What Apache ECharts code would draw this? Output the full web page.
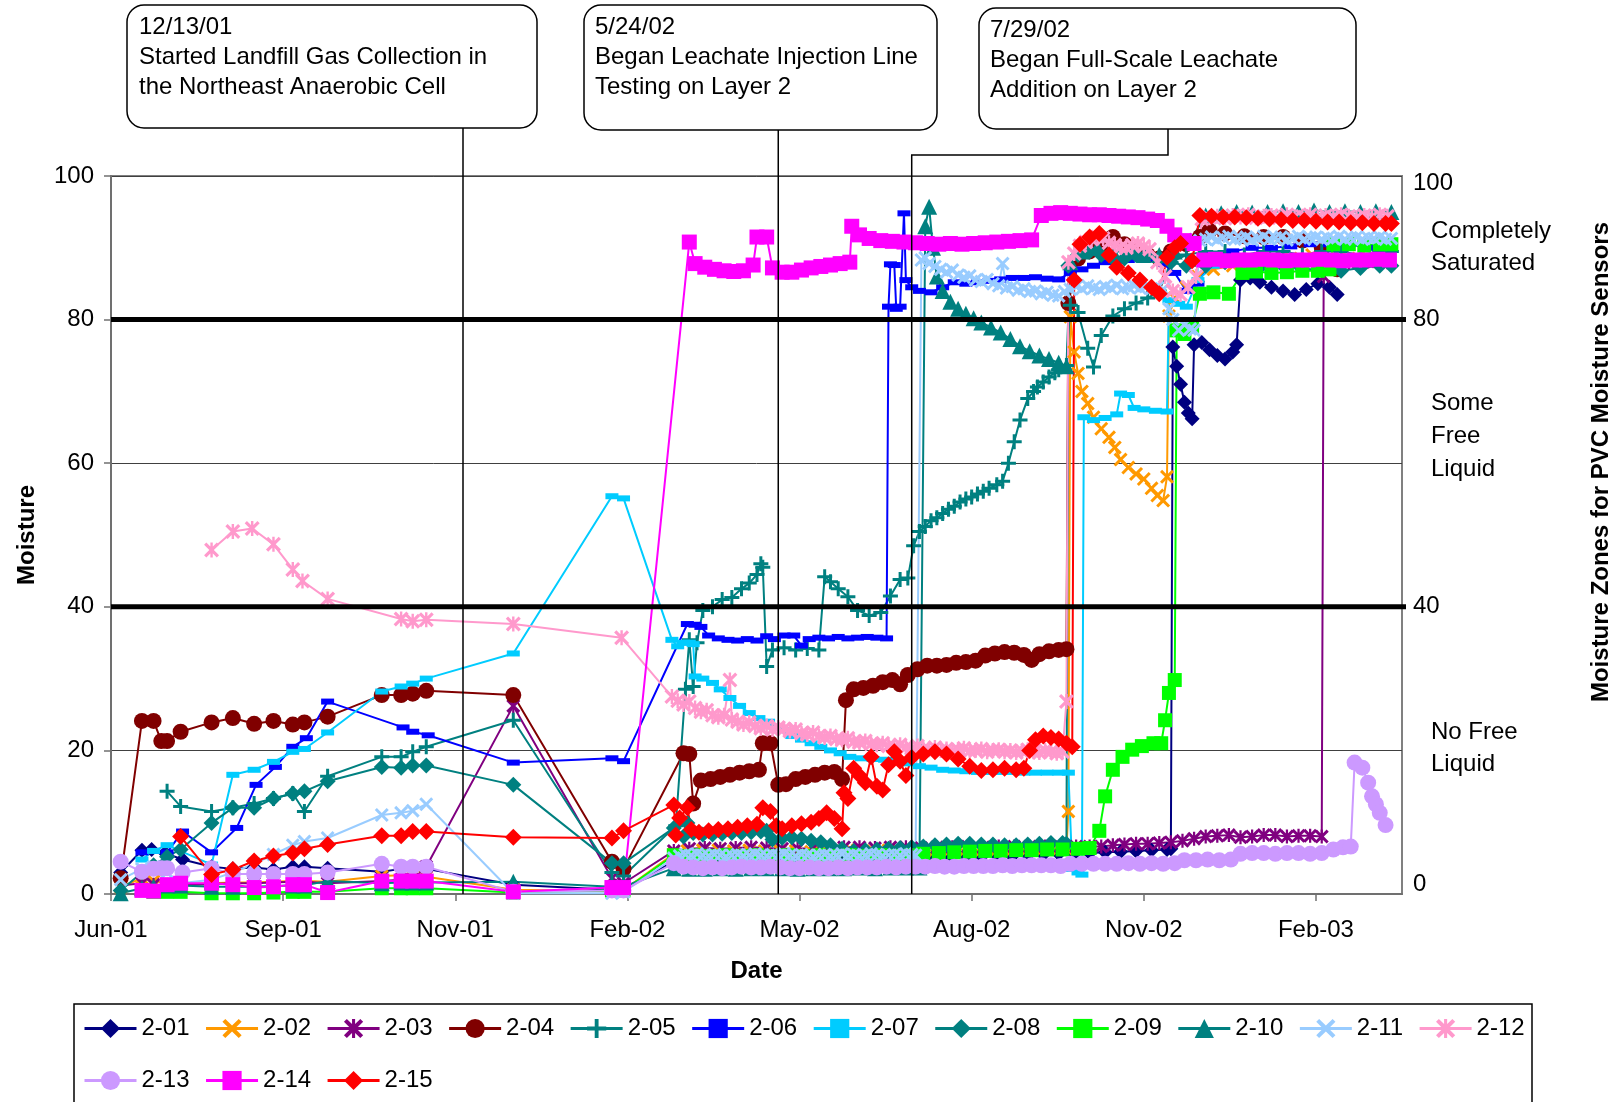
<!DOCTYPE html>
<html><head><meta charset="utf-8">
<script src="https://cdn.jsdelivr.net/npm/echarts@6/dist/echarts.min.js"></script>
<style>html,body{margin:0;padding:0;background:#fff}#chart{width:1621px;height:1102px}</style>
</head><body><div id="chart"></div>
<script>
// ---------- DATA ----------
// x values are days elapsed since the axis origin (4 Jun 2001); y values are moisture readings.
const AXIS_ORIGIN = Date.UTC(2001, 5, 4);
const TICK_DAYS = 89;
const X_MAX_DAYS = 667.5;
const ZONE_LIMITS = [40, 80];
const RIGHT_LABELS = [100, 80, 40, 0];
const ZONE_TEXTS = ['Completely\nSaturated', 'Some\nFree\nLiquid', 'No Free\nLiquid'];
const MONTHS = ['Jan','Feb','Mar','Apr','May','Jun','Jul','Aug','Sep','Oct','Nov','Dec'];
const SENSORS = ['2-01','2-02','2-03','2-04','2-05','2-06','2-07','2-08','2-09','2-10','2-11','2-12','2-13','2-14','2-15'];
const EVENT_DAYS = [182, 345, 414];
const EVENT_TEXTS = [
  '12/13/01\nStarted Landfill Gas Collection in\nthe Northeast Anaerobic Cell',
  '5/24/02\nBegan Leachate Injection Line\nTesting on Layer 2',
  '7/29/02\nBegan Full-Scale Leachate\nAddition on Layer 2'
];

const s2_01 = [[5,3.0],[16,6.1],[21,6.2],[28,5.7],[37,4.8],[52,3.8],[63,3.5],[74,3.7],[84,3.4],[94,3.8],[100,3.8],[112,3.6],[140,3.1],[150,3.5],[156,3.5],[163,3.5],[208,1.3],[259,0.6],[265,0.8],
[291,4.5],[298,5.2],[306,5.3],[314,5.3],[322,5.3],[330,5.4],[338,5.5],[346,5.3],[354,5.1],[362,5.0],[370,4.9],[378,4.8],[386,5.0],[394,5.1],[402,5.0],[410,4.9],[418,5.0],[426,5.1],[434,5.2],[442,5.3],[450,5.2],[458,5.4],[466,5.3],[474,5.4],[482,5.5],[490,5.6],[498,5.6],[506,5.7],[514,5.8],[522,5.9],[530,6.0],[538,6.1],[546,6.2],[548,6.3],
[549,76.2],[551,73.5],[553,71.0],[555,68.5],[557,67.0],[559,66.2],[560,76.5],[564,76.8],[568,75.8],[572,75.0],[576,74.5],[580,75.5],[582,76.5],[584,85.5],[589,85.8],[594,85.2],[600,84.5],[606,84.0],[612,83.5],[618,84.2],[624,85.0],[630,84.5],[634,83.5]];

const s2_02 = [[5,1.0],[16,2.2],[22,1.8],[29,1.5],[36,1.4],[52,1.5],[63,1.6],[74,1.6],[84,1.7],[94,1.8],[100,1.8],[112,1.7],[140,2.5],[150,2.6],[156,2.5],[163,2.4],[208,0.6],[259,0.4],[265,0.5],
[291,5.6],[298,6.0],[306,6.1],[314,6.1],[322,6.0],[330,6.1],[338,6.0],[346,6.0],[354,6.0],[362,5.9],[370,6.0],[378,6.0],[386,6.1],[394,6.0],[402,6.1],[410,6.0],[418,6.1],[426,6.1],[434,6.2],[442,6.2],[450,6.1],[458,6.2],[466,6.2],[474,6.3],[482,6.3],[490,6.3],[494,6.3],
[495,11.5],[496,80.4],[498,75.5],[500,72.5],[502,70.0],[505,68.3],[508,66.4],[512,64.8],[516,63.6],[519,62.2],[522,60.5],[526,59.4],[530,58.5],[534,57.8],[538,56.5],[541,55.5],[544,54.8],[546,58.1],[547,80.5],[550,83.0],[556,84.5],[562,86.0],[570,87.0],[580,87.5],[590,88.0],[600,88.0],[610,88.5],[621,89.0],[630,88.5],[640,88.5],[650,88.6],[660,88.5]];

const s2_03 = [[5,1.2],[16,1.5],[22,1.3],[29,1.2],[36,1.2],[52,1.4],[63,1.5],[74,1.5],[84,1.6],[94,1.7],[100,1.7],[112,1.5],[140,1.8],[150,2.0],[156,2.0],[163,3.8],[208,26.2],[259,2.2],[265,1.5],
[291,6.0],[299,6.3],[307,6.4],[315,6.3],[323,6.4],[331,6.5],[339,6.4],[347,6.3],[355,6.3],[363,6.4],[371,6.4],[379,6.5],[387,6.5],[395,6.4],[403,6.5],[411,6.5],[419,6.4],[427,6.5],[435,6.5],[443,6.6],[451,6.5],[459,6.6],[467,6.6],[475,6.6],[483,6.6],[491,6.6],[499,6.6],[506,6.6],[512,6.6],[518,6.8],[524,6.9],[530,7.0],[536,7.0],[542,7.1],[548,7.2],[554,7.4],[560,7.7],[566,8.0],[572,8.1],[578,8.2],[584,7.9],[590,8.0],[596,8.2],[602,8.2],[608,8.0],[614,8.1],[620,8.1],[626,8.0],
[627,86.0],[632,87.5],[640,88.0],[650,88.1],[660,88.0]];

const s2_04 = [[5,2.2],[16,24.1],[22,24.1],[26,21.3],[29,21.3],[36,22.6],[52,23.9],[63,24.5],[74,23.7],[84,24.1],[94,23.6],[100,23.9],[112,24.7],[140,27.7],[150,27.7],[156,27.9],[163,28.3],[208,27.7],[259,4.5],[265,3.5],
[296,19.6],[299,19.5],[301,12.6],[305,15.8],[310,16.0],[315,16.3],[320,16.6],[325,16.9],[330,17.1],[335,17.3],[337,21.0],[341,21.0],[345,15.2],[349,15.3],[354,16.0],[359,16.3],[364,16.6],[369,16.9],[374,17.0],[378,16.0],[380,27.0],[384,28.5],[389,28.7],[394,29.0],[399,29.5],[404,29.8],[408,29.2],[412,30.5],[417,31.3],[422,31.8],[427,31.8],[432,31.9],[437,32.2],[442,32.3],[447,32.5],[452,33.2],[457,33.5],[462,33.7],[467,33.6],[472,33.3],[476,32.6],[480,33.4],[485,33.8],[490,34.0],[494,34.1],
[495,82.3],[500,88.5],[506,89.5],[512,90.5],[518,91.5],[524,90.5],[530,89.5],[536,89.0],[542,88.5],[548,89.5],[556,90.5],[563,91.5],[568,92.4],[576,92.0],[586,91.6],[596,91.5],[606,91.5],[616,91.0],[626,90.0],[634,87.0]];

const s2_05 = [[29,14.3],[36,12.2],[52,11.5],[63,12.0],[74,12.6],[84,13.3],[94,14.0],[100,11.5],[112,16.4],[140,19.1],[150,19.1],[156,19.8],[163,20.5],[208,24.2],[259,3.0],[265,2.5],
[292,9.5],[297,28.5],[299,35.4],[301,28.9],[303,35.0],[306,39.5],[311,40.0],[316,41.0],[321,41.3],[326,42.5],[330,43.3],[334,44.5],[336,46.0],[337,45.5],[339,31.7],[342,34.0],[348,34.3],[354,34.0],[360,34.2],[366,34.0],[369,44.2],[372,43.5],[376,42.5],[381,41.4],[386,39.5],[392,38.8],[398,39.2],[403,41.5],[408,43.8],[412,44.0],[415,48.5],[418,50.5],[421,51.2],[424,52.0],[427,52.4],[430,53.0],[433,53.6],[436,54.0],[439,54.6],[442,55.0],[445,55.3],[448,55.7],[451,56.1],[454,56.5],[458,57.0],[461,57.5],[464,60.0],[467,63.0],[470,66.0],[474,69.0],[477,70.0],[479,70.6],[482,71.3],[485,72.0],[488,72.6],[490,73.0],[494,73.6],
[496,82.0],[500,81.0],[505,76.0],[508,73.4],[512,77.8],[518,80.5],[524,81.5],[530,82.3],[536,83.0],[542,84.0],[548,88.0],[556,89.0],[566,89.5],[576,89.5],[586,89.0],[596,89.5],[606,89.5],[616,89.0],[626,89.5],[636,89.5],[646,89.0],[656,89.5],[662,89.5]];

const s2_06 = [[16,5.8],[22,6.0],[29,5.8],[37,8.7],[52,5.8],[65,9.2],[75,15.2],[85,17.7],[94,20.5],[101,21.7],[112,26.8],[151,23.2],[156,22.6],[164,22.1],[208,18.3],[259,18.9],[265,18.5],
[298,37.6],[302,37.5],[305,37.2],[309,36.0],[314,35.6],[319,35.4],[324,35.3],[329,35.5],[334,35.3],[339,35.9],[343,35.5],[348,36.0],[353,36.0],[357,34.6],[361,35.5],[366,35.7],[371,35.6],[376,35.8],[381,35.6],[386,35.7],[391,35.8],[396,35.7],[401,35.6],
[402,81.8],[403,87.7],[405,87.6],[406,81.5],[408,81.8],[410,94.8],[411,85.5],[414,84.5],[418,84.0],[424,83.8],[430,84.5],[436,85.2],[442,85.0],[448,85.2],[454,85.4],[460,85.6],[466,85.8],[472,85.8],[478,85.9],[484,85.7],[490,85.6],[496,86.5],[502,87.0],[508,87.5],[514,88.0],[520,88.2],[526,88.3],[532,88.6],[538,88.5],[544,87.8],[550,86.5],[556,84.0],[562,85.0],[570,89.0],[580,89.5],[590,90.0],[600,90.0],[610,90.2],[620,90.5],[630,90.5],[640,90.5],[650,90.0],[660,90.5]];

const s2_07 = [[16,4.8],[22,6.0],[29,6.8],[52,4.1],[63,16.6],[74,17.3],[84,18.4],[94,19.8],[100,20.2],[112,22.5],[140,28.2],[150,28.9],[156,29.3],[163,30.0],[208,33.5],[259,55.4],[265,55.1],
[290,35.4],[293,34.5],[296,35.0],[299,35.0],[301,34.8],[302,30.3],[306,30.0],[311,29.4],[315,28.5],[320,27.3],[325,26.2],[330,25.2],[335,24.5],[340,24.0],[344,23.3],[348,22.8],[352,22.0],[357,21.5],[362,21.0],[367,20.5],[372,20.0],[377,19.6],[382,19.1],[388,18.9],[394,18.8],[400,18.7],[406,18.6],[412,18.2],[418,17.8],[424,17.6],[430,17.3],[436,17.2],[442,17.1],[448,17.0],[454,17.0],[460,17.0],[466,17.0],[472,16.9],[478,16.9],[484,16.9],[490,16.9],[495,16.9],
[497,3.5],[500,3.0],[502,2.7],[503,66.4],[508,66.0],[514,66.3],[520,66.8],[522,69.7],[526,69.5],[529,67.7],[534,67.5],[540,67.3],[546,67.2],[547,82.7],[552,82.2],[556,81.8],[562,85.5],[570,87.5],[580,88.0],[590,88.0],[600,87.8],[610,88.0],[620,88.1],[630,88.2],[640,88.0],[650,88.0],[660,88.1]];

const s2_08 = [[5,0.5],[16,3.0],[22,4.0],[29,5.2],[36,6.2],[52,9.9],[63,12.0],[74,12.0],[84,13.3],[94,14.0],[100,14.3],[112,15.7],[140,17.7],[150,17.6],[156,17.9],[163,17.9],[208,15.2],[259,4.3],[265,4.3],
[291,9.2],[296,8.0],[298,9.9],[301,8.5],[306,8.3],[311,8.3],[316,8.4],[321,8.5],[326,8.5],[331,8.6],[336,8.7],[339,8.8],[342,7.6],[347,7.8],[352,7.9],[357,7.7],[362,7.4],[367,7.2],[372,6.8],[378,6.3],[384,6.0],[390,6.1],[396,6.2],[402,6.3],[408,6.4],[414,6.5],[420,6.6],[426,6.8],[432,6.9],[438,7.0],[444,7.0],[450,6.9],[456,6.9],[462,6.8],[468,6.8],[474,6.9],[480,7.0],[486,7.1],[492,7.1],[494,7.0],
[495,87.5],[500,89.0],[506,89.5],[512,89.0],[518,88.5],[524,88.5],[530,89.0],[536,89.0],[542,88.5],[548,88.0],[556,87.5],[566,87.5],[576,88.0],[586,88.0],[596,87.8],[606,87.5],[616,87.0],[626,87.0],[636,86.8],[646,87.2],[656,87.5],[662,87.5]];

const s2_09 = [[22,0.3],[29,0.3],[36,0.3],[52,0.1],[63,0.1],[74,0.1],[84,0.2],[94,0.3],[100,0.3],[112,0.3],[140,0.8],[150,0.8],[156,0.8],[163,0.8],[208,0.2],[259,0.5],[265,0.5],
[291,5.4],[297,5.3],[303,5.4],[310,5.3],[318,5.4],[326,5.3],[334,5.4],[342,5.3],[350,5.4],[358,5.3],[366,5.4],[374,5.3],[382,5.4],[390,5.3],[398,5.4],[406,5.3],[414,5.4],[420,5.6],[428,5.7],[436,5.8],[444,5.9],[452,6.0],[460,6.0],[468,6.1],[476,6.1],[484,6.2],[492,6.2],[500,6.3],[506,6.4],
[511,8.8],[514,13.6],[518,17.3],[523,19.1],[528,20.1],[533,20.6],[539,21.0],[543,21.0],[545,24.2],[547,28.0],[550,29.8],[551,78.5],[555,78.0],[559,79.0],[563,83.6],[570,83.8],[578,83.6],[585,86.5],[592,86.7],[600,86.5],[608,86.6],[616,86.8],[624,86.8],[630,87.0],[632,90.5],[640,90.5],[648,90.3],[656,90.5],[662,90.5]];

const s2_10 = [[5,0.1],[16,0.8],[22,1.0],[29,1.2],[36,1.2],[52,1.0],[63,1.0],[74,1.0],[84,1.1],[94,1.2],[100,1.2],[112,1.8],[140,1.5],[150,1.6],[156,1.6],[163,1.6],[208,1.7],[259,1.0],[265,1.0],
[291,3.6],[299,3.5],[307,3.5],[315,3.6],[323,3.5],[331,3.6],[339,3.6],[347,3.6],[355,3.5],[363,3.6],[371,3.6],[379,3.6],[387,3.7],[395,3.6],[403,3.7],[411,3.7],[418,3.7],
[421,93.0],[423,95.7],[425,90.0],[427,86.0],[430,84.0],[434,82.5],[438,81.5],[442,80.8],[446,80.2],[450,79.6],[455,78.9],[460,78.2],[465,77.3],[470,76.3],[475,75.6],[480,75.0],[485,74.5],[490,74.0],[494,73.5],
[496,88.0],[502,89.5],[510,90.0],[518,89.5],[526,89.5],[534,89.0],[542,89.0],[550,89.5],[558,91.0],[566,94.5],[574,94.8],[582,95.0],[590,94.9],[598,95.0],[606,95.1],[614,95.0],[622,95.2],[630,95.0],[638,95.1],[646,95.0],[654,95.1],[662,95.0]];

const s2_11 = [[5,2.0],[16,3.5],[22,3.8],[29,3.0],[36,1.5],[52,2.0],[63,3.0],[74,4.2],[84,5.5],[94,6.8],[100,7.3],[112,7.8],[140,11.0],[150,11.3],[156,11.6],[163,12.5],[208,0.1],[259,0.1],[265,0.3],
[291,5.0],[294,5.3],[297,5.5],[300,5.4],[303,5.6],[306,5.4],[309,5.3],[312,5.5],[315,5.4],[318,5.2],[321,5.4],[324,5.5],[327,5.3],[330,5.4],[333,5.6],[336,5.4],[339,5.3],[342,5.5],[345,5.4],[348,5.6],[351,5.4],[354,5.3],[357,5.5],[360,5.4],[363,5.2],[366,5.4],[369,5.5],[372,5.3],[375,5.4],[378,5.6],[381,5.4],[384,5.5],[387,5.3],[390,5.4],[393,5.6],[396,5.5],[399,5.3],[402,5.4],[405,5.5],[408,5.4],[411,5.6],[414,5.5],[416,5.4],
[419,88.3],[421,88.6],[423,87.8],[426,87.4],[429,87.0],[432,86.6],[435,86.9],[438,86.2],[441,85.9],[444,86.1],[447,85.5],[450,85.3],[453,85.6],[456,85.0],[459,84.7],[461,87.8],[463,84.4],[466,84.6],[469,84.1],[472,84.3],[475,83.9],[478,84.0],[481,83.6],[484,83.8],[487,83.4],[490,83.3],[493,83.9],[496,84.2],[499,84.6],[502,84.3],[505,84.7],[508,84.4],[511,84.2],[514,84.6],[517,84.4],[520,84.8],[523,84.3],[526,84.5],[529,84.7],[532,84.4],[535,84.6],[538,84.3],[541,84.5],[544,84.2],[547,81.5],[549,80.0],[552,78.5],[555,79.3],[558,78.7],[560,78.5],
[563,91.0],[566,91.2],[569,91.5],[572,91.1],[575,91.4],[578,91.6],[581,91.2],[584,91.3],[587,91.5],[590,91.1],[593,91.3],[596,91.6],[599,91.2],[602,91.4],[605,91.5],[608,91.1],[611,91.3],[614,91.6],[617,91.2],[620,91.4],[623,91.5],[626,91.2],[629,91.4],[632,91.3],[635,91.6],[638,91.2],[641,91.4],[644,91.5],[647,91.2],[650,91.4],[653,91.3],[656,91.5],[659,91.2],[662,91.3]];

const s2_12 = [[52,47.9],[63,50.5],[73,50.9],[84,48.7],[94,45.2],[99,43.6],[112,41.1],[150,38.3],[156,38.0],[163,38.2],[208,37.6],[264,35.7],
[290,27.5],[293,26.9],[296,26.4],[299,26.8],[302,25.9],[305,25.4],[308,25.6],[311,24.9],[314,24.6],[317,24.9],[320,29.8],[321,24.3],[324,24.0],[327,23.6],[330,23.9],[333,23.4],[336,23.1],[339,23.4],[342,22.9],[345,23.2],[348,23.0],[351,22.7],[354,22.9],[357,22.4],[360,22.2],[363,22.5],[366,22.0],[369,21.8],[372,22.0],[375,21.6],[378,21.5],[381,21.7],[384,21.2],[387,21.1],[390,21.3],[393,20.9],[396,20.8],[399,21.0],[402,20.6],[405,20.5],[408,20.8],[411,20.4],[414,20.3],[417,20.6],[420,20.2],[423,20.1],[426,20.4],[429,20.0],[432,20.2],[435,19.9],[438,20.1],[441,20.3],[444,19.9],[447,20.0],[450,20.2],[453,19.8],[456,20.0],[459,20.1],[462,19.8],[465,20.0],[468,19.7],[471,19.9],[474,20.1],[477,19.8],[480,19.7],[483,20.0],[486,19.8],[489,19.6],[492,19.8],[494,26.8],
[495,88.0],[498,89.2],[501,90.3],[504,90.8],[507,91.2],[510,91.5],[513,91.3],[516,90.7],[519,90.4],[522,90.1],[525,90.0],[528,90.4],[531,90.6],[534,90.2],[537,89.8],[541,88.0],[545,86.0],[549,84.0],[553,83.5],[557,84.5],[561,86.0],[564,94.0],[568,94.2],[572,94.4],[576,94.1],[580,94.5],[584,94.3],[588,94.6],[592,94.2],[596,94.4],[600,94.5],[604,94.2],[608,94.6],[612,94.3],[616,94.4],[620,94.6],[624,94.2],[628,94.5],[632,94.3],[636,94.6],[640,94.4],[644,94.2],[648,94.5],[652,94.3],[656,94.6],[660,94.4]];

const s2_13 = [[5,4.5],[16,3.1],[22,3.5],[26,3.6],[29,3.6],[37,3.0],[52,3.6],[63,2.8],[74,2.8],[84,2.8],[94,2.8],[100,2.8],[112,3.0],[140,4.2],[150,3.8],[156,3.8],[163,3.8],[208,0.3],[259,0.5],[265,0.5],
[291,4.3],[296,3.8],[301,3.7],[306,3.6],[311,3.7],[316,3.6],[321,3.7],[326,3.8],[331,3.7],[336,3.7],[341,3.8],[346,3.7],[351,3.6],[356,3.6],[361,3.7],[366,3.6],[371,3.6],[376,3.7],[381,3.6],[386,3.7],[391,3.7],[396,3.7],[401,3.8],[406,3.7],[411,3.8],[416,3.8],[421,3.8],[426,3.9],[431,3.8],[436,3.8],[441,3.9],[446,3.9],[451,3.9],[456,3.9],[461,4.0],[466,3.9],[471,4.0],[476,4.0],[481,4.0],[486,4.0],[491,3.9],[496,4.2],[502,4.2],[508,4.2],[514,4.2],[520,4.2],[526,4.3],[532,4.2],[538,4.3],[544,4.2],[550,4.3],[555,4.7],[561,4.7],[567,4.8],[573,4.7],[579,4.8],[584,5.6],[590,5.7],[596,5.7],[602,5.6],[608,5.7],[614,5.7],[620,5.6],[626,5.7],[632,6.2],[637,6.5],[641,6.6],
[643,18.3],[647,17.6],[650,15.5],[652,13.6],[654,12.5],[656,11.3],[659,9.6]];

const s2_14 = [[16,0.5],[22,0.4],[29,1.3],[36,1.5],[52,1.5],[63,1.3],[74,0.9],[84,1.0],[94,1.3],[100,1.3],[112,0.2],[140,1.8],[150,1.8],[156,1.8],[163,1.8],[208,0.3],[259,0.9],[265,0.9],
[299,90.8],[302,87.8],[307,87.3],[312,87.0],[317,86.8],[322,86.7],[327,86.8],[332,87.6],[334,91.5],[339,91.5],[342,87.2],[347,86.6],[352,86.6],[357,86.9],[362,87.2],[367,87.4],[372,87.6],[377,87.8],[382,88.0],[383,93.0],[387,91.8],[392,91.3],[398,91.0],[404,90.9],[410,90.8],[416,90.7],[422,90.6],[428,90.5],[434,90.6],[440,90.5],[446,90.6],[452,90.7],[458,90.8],[464,90.9],[470,91.0],[476,91.1],
[481,94.5],[486,94.8],[491,94.9],[496,94.8],[501,94.7],[506,94.6],[511,94.6],[516,94.5],[521,94.4],[526,94.3],[531,94.2],[536,94.0],[541,93.8],[546,93.0],[550,91.8],[555,91.0],[560,90.6],
[565,88.3],[571,88.4],[577,88.2],[583,88.3],[589,88.3],[595,88.4],[601,88.3],[607,88.2],[613,88.3],[619,88.3],[625,88.4],[631,88.3],[637,88.2],[643,88.3],[649,88.3],[655,88.4],[661,88.3]];

const s2_15 = [[36,8.0],[52,2.7],[63,3.4],[74,4.6],[84,5.3],[94,5.7],[100,6.3],[112,6.9],[140,8.1],[150,8.1],[156,8.7],[163,8.7],[208,7.9],[259,7.8],[265,8.8],
[291,12.4],[292,8.2],[294,10.6],[298,12.0],[300,9.0],[304,8.6],[309,8.8],[314,9.0],[319,9.1],[324,9.3],[329,9.5],[334,9.7],[337,12.0],[341,11.5],[344,9.5],[347,9.1],[352,9.5],[357,9.8],[362,10.0],[366,10.5],[370,11.3],[374,10.5],[378,9.1],[379,14.1],[381,13.3],[384,17.5],[387,16.5],[390,15.5],[393,19.1],[396,15.0],[399,14.5],[402,18.0],[405,19.8],[408,18.5],[411,16.5],[414,19.0],[420,19.5],[426,19.8],[432,19.5],[438,18.8],[444,17.8],[450,17.2],[456,17.3],[462,17.5],[468,17.3],[472,17.5],[475,20.0],[478,21.5],[482,22.0],[486,21.8],[490,21.6],[494,21.0],[497,20.5],
[498,85.5],[501,90.5],[506,91.5],[511,92.0],[516,89.0],[520,87.3],[526,86.5],[532,85.5],[538,84.5],[542,83.6],[546,88.7],[550,90.0],[553,90.6],[559,88.2],[563,94.5],[569,94.4],[575,94.3],[581,94.3],[587,94.2],[593,94.1],[599,94.0],[605,93.9],[611,93.8],[617,93.8],[623,93.7],[629,93.6],[635,93.6],[641,93.5],[647,93.5],[653,93.4],[659,93.4],[662,93.4]];

const SERIES_DATA = [s2_01,s2_02,s2_03,s2_04,s2_05,s2_06,s2_07,s2_08,s2_09,s2_10,s2_11,s2_12,s2_13,s2_14,s2_15];

// ---------- STYLE ----------
const FONT = "'Liberation Sans', Arial, sans-serif";
const COLORS = ['#000080','#FF9900','#800080','#800000','#008080','#0000FF','#00CCFF','#008080','#00FF00','#008080','#99CCFF','#FF99CC','#CC99FF','#FF00FF','#FF0000'];
const P_X = 'path://M1.5,0L5,3.5L8.5,0L10,1.5L6.5,5L10,8.5L8.5,10L5,6.5L1.5,10L0,8.5L3.5,5L0,1.5Z';
const P_PLUS = 'path://M4,0H6V4H10V6H6V10H4V6H0V4H4Z';
const P_STAR = 'path://M4.2,0H5.8V10H4.2Z M1.5,0L5,3.5L8.5,0L10,1.5L6.5,5L10,8.5L8.5,10L5,6.5L1.5,10L0,8.5L3.5,5L0,1.5Z';
const SYMBOLS = ['diamond',P_X,P_STAR,'circle',P_PLUS,'rect','rect','diamond','rect','triangle',P_X,P_STAR,'circle','rect','diamond'];
const SIZES = [15,14,14,16,15,[13,6],[13,6],16,14,16,14,15,16,15,17];

function fmtDate(v){
  const d = new Date(AXIS_ORIGIN + v*86400000);
  return MONTHS[d.getUTCMonth()] + '-' + String(d.getUTCFullYear()).slice(2);
}

const chart = echarts.init(document.getElementById('chart'), null, {renderer:'canvas'});
const option = {
  animation:false,
  backgroundColor:'#fff',
  textStyle:{fontFamily:FONT},
  grid:{left:111, top:176, width:1291, height:718, show:true, borderColor:'#808080', borderWidth:2, backgroundColor:'transparent'},
  xAxis:{type:'value', min:0, max:X_MAX_DAYS, interval:TICK_DAYS,
    name:'Date', nameLocation:'middle', nameGap:65,
    nameTextStyle:{fontSize:24, fontWeight:'bold', color:'#000', fontFamily:FONT},
    axisLine:{show:true, lineStyle:{color:'#707070', width:2}},
    axisTick:{show:true, inside:false, length:7, lineStyle:{color:'#707070', width:1.5}},
    axisLabel:{fontSize:24, color:'#000', fontFamily:FONT, margin:24, showMaxLabel:false, formatter:fmtDate},
    splitLine:{show:false}},
  yAxis:{type:'value', min:0, max:100, interval:20,
    name:'Moisture', nameLocation:'middle', nameGap:72, nameRotate:90,
    nameTextStyle:{fontSize:24, fontWeight:'bold', color:'#000', fontFamily:FONT},
    axisLine:{show:true, lineStyle:{color:'#707070', width:2}},
    axisTick:{show:true, inside:false, length:7, lineStyle:{color:'#707070', width:1.5}},
    axisLabel:{fontSize:24, color:'#000', fontFamily:FONT, margin:17},
    splitLine:{show:true, lineStyle:{color:'#404040', width:1}}},
  legend:{data:SENSORS, left:83, top:1010, width:1480, padding:0, itemWidth:52, itemHeight:24, itemGap:15,
    lineStyle:{width:3},
    textStyle:{fontSize:24, color:'#000', fontFamily:FONT, lineHeight:37}},
  series: SENSORS.map((name,i)=>({
    name, type:'line', data:SERIES_DATA[i],
    symbol:SYMBOLS[i], symbolSize:SIZES[i], showAllSymbol:true, clip:false,
    itemStyle:{color:COLORS[i]}, lineStyle:{color:COLORS[i], width:2},
    emphasis:{disabled:true}
  }))
};
chart.setOption(option);

// ---------- overlay shapes (zone lines, callouts, right-hand labels) ----------
const px = d => chart.convertToPixel({xAxisIndex:0}, d);
const py = v => chart.convertToPixel({yAxisIndex:0}, v);
const x0 = px(0), x1 = px(X_MAX_DAYS), yb = py(0);
const g = [];
ZONE_LIMITS.forEach(v => g.push({type:'line', z:100, shape:{x1:x0, y1:py(v), x2:x1+4, y2:py(v)}, style:{stroke:'#000', lineWidth:5}}));

const BOXES = [{x:127,y:5,w:410,h:123,tx:139,ty:12},{x:584,y:5,w:353,h:125,tx:595,ty:12},{x:979,y:8,w:377,h:121,tx:990,ty:15}];
BOXES.forEach((b,i)=>{
  g.push({type:'rect', z:101, shape:{x:b.x, y:b.y, width:b.w, height:b.h, r:17}, style:{fill:'#fff', stroke:'#000', lineWidth:1.5}});
  g.push({type:'text', z:102, style:{text:EVENT_TEXTS[i], x:b.tx, y:b.ty, fontSize:24, fontFamily:FONT, lineHeight:30, fill:'#000', align:'left', verticalAlign:'top'}});
});
const ex = EVENT_DAYS.map(px);
g.push({type:'line', z:100, shape:{x1:ex[0], y1:BOXES[0].y+BOXES[0].h, x2:ex[0], y2:yb}, style:{stroke:'#000', lineWidth:1.5}});
g.push({type:'line', z:100, shape:{x1:ex[1], y1:BOXES[1].y+BOXES[1].h, x2:ex[1], y2:yb}, style:{stroke:'#000', lineWidth:1.5}});
g.push({type:'polyline', z:100, shape:{points:[[1168,BOXES[2].y+BOXES[2].h],[1168,155],[ex[2],155],[ex[2],yb]]}, style:{stroke:'#000', lineWidth:1.5, fill:null}});

RIGHT_LABELS.forEach(v=>{
  let y = py(v); if (v===100) y += 7; if (v===0) y -= 10;
  g.push({type:'text', z:100, style:{text:String(v), x:1413, y, fontSize:24, fontFamily:FONT, fill:'#000', align:'left', verticalAlign:'middle'}});
});
const ZONE_POS = [{y:215, lh:32},{y:387, lh:33},{y:716, lh:32}];
ZONE_TEXTS.forEach((t,i)=>g.push({type:'text', z:100, style:{text:t, x:1431, y:ZONE_POS[i].y, fontSize:24, fontFamily:FONT, lineHeight:ZONE_POS[i].lh, fill:'#000', align:'left', verticalAlign:'top'}}));
g.push({type:'text', z:100, x:1601, y:462, rotation:Math.PI/2, style:{text:'Moisture Zones for PVC Moisture Sensors', x:0, y:0, fontSize:24, fontWeight:'bold', fontFamily:FONT, fill:'#000', align:'center', verticalAlign:'middle'}});
g.push({type:'rect', z:100, shape:{x:74, y:1004, width:1458, height:150}, style:{fill:null, stroke:'#000', lineWidth:1.5}});
chart.setOption({graphic:g});
</script></body></html>
